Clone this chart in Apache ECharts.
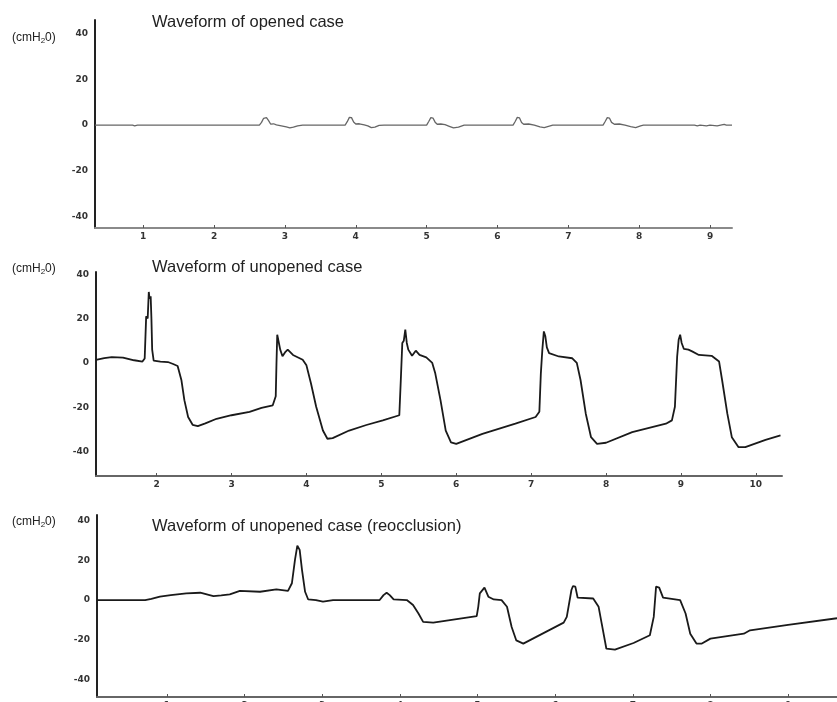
<!DOCTYPE html>
<html>
<head>
<meta charset="utf-8">
<script src="https://cdn.jsdelivr.net/npm/echarts@6/dist/echarts.min.js"></script>
<style>
html,body{margin:0;padding:0;background:#fff;}
#chart{width:837px;height:702px;}
</style>
</head>
<body>
<div id="chart"></div>
<script>
// values (x = time, y = cmH2O)
const titles = ['Waveform of opened case', 'Waveform of unopened case', 'Waveform of unopened case (reocclusion)'];
const yTicks = [-40, -20, 0, 20, 40];
const xTicksOpened = [1, 2, 3, 4, 5, 6, 7, 8, 9];
const xTicksUnopened = [2, 3, 4, 5, 6, 7, 8, 9, 10];
const xTicksReocc = [1, 2, 3, 4, 5, 6, 7, 8, 9];

const openedCase = [[0.32,0],[0.85,0],[0.88,-0.3],[0.92,0],[1.4,0],[1.42,0.2],[1.45,0],[1.95,0],[1.97,-0.2],[2.0,0],
    [2.64,0],[2.67,1.2],[2.70,3.0],[2.74,3.3],[2.77,2.0],[2.80,0.4],[2.84,0.6],[2.88,0.1],[2.95,-0.3],[3.02,-0.8],[3.07,-1.2],[3.12,-0.9],[3.18,-0.3],[3.25,0],
    [3.85,0],[3.88,1.5],[3.91,3.4],[3.94,3.3],[3.97,1.4],[4.0,0.5],[4.05,0.6],[4.12,0.1],[4.17,-0.3],[4.22,-1.1],[4.27,-0.9],[4.33,-0.1],[4.4,0],[4.6,0],[4.62,-0.3],[4.65,0],
    [5.0,0],[5.03,1.6],[5.06,3.3],[5.09,3.1],[5.12,1.3],[5.15,0.4],[5.2,0.5],[5.26,0.2],[5.32,-0.5],[5.38,-1.2],[5.45,-0.9],[5.53,0],
    [6.22,0],[6.25,1.6],[6.28,3.4],[6.31,3.2],[6.34,1.2],[6.37,0.4],[6.44,0.5],[6.52,0],[6.6,-0.8],[6.66,-1.1],[6.72,-0.5],[6.78,0],
    [7.49,0],[7.52,1.6],[7.55,3.3],[7.58,3.1],[7.61,1.2],[7.65,0.4],[7.72,0.5],[7.8,0],[7.88,-0.6],[7.95,-1.1],[8.02,-0.3],[8.06,0],
    [8.78,0],[8.82,-0.3],[8.86,0],[8.95,-0.3],[9.0,0],[9.1,-0.3],[9.15,0],[9.2,0.3],[9.23,0],[9.31,0]];

const unopenedCase = [[1.19,1.4],[1.3,2.2],[1.4,2.6],[1.55,2.4],[1.7,1.2],[1.81,0.6],[1.84,2],[1.86,21],[1.88,20],[1.895,32],[1.905,29],[1.92,30],[1.93,20],[1.94,6],[1.96,1],
    [2.05,0.6],[2.15,0.4],[2.22,-0.5],[2.28,-1.4],[2.33,-7.7],[2.37,-16.8],[2.42,-24.4],[2.48,-27.9],[2.55,-28.5],[2.65,-27.3],[2.80,-25.2],[3.0,-23.6],[3.24,-22.1],[3.40,-20.3],[3.55,-19.1],
    [3.59,-15],[3.60,0],[3.61,12.7],[3.63,13.5],[3.65,6],[3.68,3],[3.72,5],[3.75,6],[3.82,3.6],[3.95,1.4],[4.0,-1.1],[4.06,-9.2],[4.13,-19.8],[4.22,-30.5],[4.28,-34.2],[4.35,-33.9],[4.57,-30.5],[4.8,-28],[5.02,-25.9],[5.24,-23.6],
    [5.26,-7.7],[5.28,9],[5.30,10],[5.32,15],[5.34,9],[5.36,6],[5.41,3.2],[5.46,5.5],[5.51,3.6],[5.6,2.5],[5.68,0],[5.72,-4.7],[5.79,-16.8],[5.86,-30.5],[5.93,-35.8],[6.0,-36.5],[6.35,-32],[6.79,-27.4],[7.06,-24.4],[7.11,-22],
    [7.13,-4.7],[7.15,6],[7.17,14.2],[7.19,12],[7.21,7],[7.24,4.4],[7.37,2.9],[7.55,2.1],[7.61,0],[7.66,-7.7],[7.73,-22.9],[7.80,-33.5],[7.88,-36.5],[8.0,-36],[8.35,-31.2],[8.80,-27.4],[8.88,-25.9],
    [8.92,-19.8],[8.95,2.9],[8.97,10.4],[8.99,12.7],[9.01,9],[9.04,6.3],[9.1,6],[9.15,5.2],[9.24,3.6],[9.41,3.2],[9.51,0.6],[9.55,-7.7],[9.62,-22.9],[9.68,-33.5],[9.77,-38],[9.86,-38],[10.13,-34.7],[10.33,-32.7]];

const reocclusionCase = [[0.10,0],[0.72,0],[0.80,0.6],[0.91,1.7],[1.05,2.5],[1.25,3.4],[1.43,3.7],[1.55,2.5],[1.60,2.0],[1.70,2.4],[1.81,2.9],[1.94,4.6],[2.20,4.2],[2.41,5.4],[2.56,4.6],
    [2.61,8.5],[2.65,20.4],[2.68,27.5],[2.71,25.4],[2.74,15.3],[2.78,4.2],[2.82,0.3],[2.92,0],[3.01,-0.8],[3.14,0],[3.74,0],[3.79,2.5],[3.83,3.7],[3.87,2.5],[3.92,0.3],[4.09,0],
    [4.17,-2.5],[4.24,-6.8],[4.30,-11],[4.43,-11.4],[4.99,-8.1],[5.01,-3.4],[5.03,3.4],[5.09,6.3],[5.14,1.7],[5.21,0.3],[5.31,0],[5.38,-3.4],[5.44,-13.6],[5.50,-20.4],[5.59,-22],
    [6.11,-11.4],[6.15,-8.5],[6.21,5.1],[6.23,7.1],[6.26,6.8],[6.29,1.2],[6.49,0.8],[6.56,-3.4],[6.60,-11.9],[6.66,-24.6],[6.77,-25.1],[7.01,-21.7],[7.22,-17.8],
    [7.27,-8.5],[7.30,6.8],[7.34,6.3],[7.39,1.2],[7.61,0],[7.68,-6.8],[7.74,-17],[7.82,-22],[7.89,-22],[8.0,-19.5],[8.43,-17],[8.51,-15.3],[9.0,-12.5],[9.63,-9.2]];

const chart = echarts.init(document.getElementById('chart'));

const grids = [
    { left: 95, top: 20, width: 637, height: 208, xMin: 0.32, xMax: 9.31, yMin: -45, yMax: 46, xTicks: xTicksOpened, xColor: '#8a8a8a' },
    { left: 96, top: 272, width: 686, height: 204, xMin: 1.19, xMax: 10.35, yMin: -51, yMax: 41, xTicks: xTicksUnopened, xColor: '#666' },
    { left: 97, top: 515, width: 740, height: 182, xMin: 0.1, xMax: 9.63, yMin: -49, yMax: 43, xTicks: xTicksReocc, xColor: '#666' }
];
const titleY = [23, 268, 527];
const unitY = [38, 269, 522];
const seriesData = [openedCase, unopenedCase, reocclusionCase];

const tickFont = { fontFamily: 'DejaVu Sans', fontSize: 9, fontWeight: 'bold', color: '#333' };

let option = {
    animation: false,
    backgroundColor: '#fff',
    title: [],
    grid: grids.map(g => ({ left: g.left, top: g.top, width: g.width, height: g.height, outerBoundsMode: 'none' })),
    xAxis: grids.map((g, i) => ({
        type: 'value',
        gridIndex: i,
        min: g.xMin,
        max: g.xMax,
        axisLine: { show: true, onZero: false, lineStyle: { color: g.xColor, width: 2 } },
        axisTick: { show: true, inside: true, length: 3, customValues: g.xTicks, lineStyle: { color: '#555' } },
        axisLabel: Object.assign({ customValues: g.xTicks, margin: 4 }, tickFont),
        splitLine: { show: false }
    })),
    yAxis: grids.map((g, i) => ({
        type: 'value',
        gridIndex: i,
        min: g.yMin,
        max: g.yMax,
        axisLine: { show: true, lineStyle: { color: '#222', width: 2 } },
        axisTick: { show: false },
        axisLabel: Object.assign({ customValues: yTicks, margin: 7 }, tickFont),
        splitLine: { show: false }
    })),
    series: seriesData.map((d, i) => ({
        type: 'line',
        xAxisIndex: i,
        yAxisIndex: i,
        data: d,
        showSymbol: false,
        symbol: 'none',
        lineStyle: { color: i === 0 ? '#666' : '#1a1a1a', width: i === 0 ? 1.3 : 1.8 }
    }))
};

titles.forEach((t, i) => {
    option.title.push({
        text: t,
        left: 152,
        top: titleY[i] - 9,
        padding: 0,
        textStyle: { fontFamily: 'Liberation Sans', fontSize: 16.5, fontWeight: 'normal', color: '#222' }
    });
    option.title.push({
        text: '(cmH{sub|2}0)',
        left: 12,
        top: unitY[i] - 7,
        padding: 0,
        textStyle: {
            fontFamily: 'Liberation Sans', fontSize: 12, fontWeight: 'normal', color: '#222',
            rich: { sub: { fontFamily: 'Liberation Sans', fontSize: 8, color: '#222', verticalAlign: 'bottom', padding: [6, 0, 0, 0] } }
        }
    });
});

chart.setOption(option);
</script>
</body>
</html>
